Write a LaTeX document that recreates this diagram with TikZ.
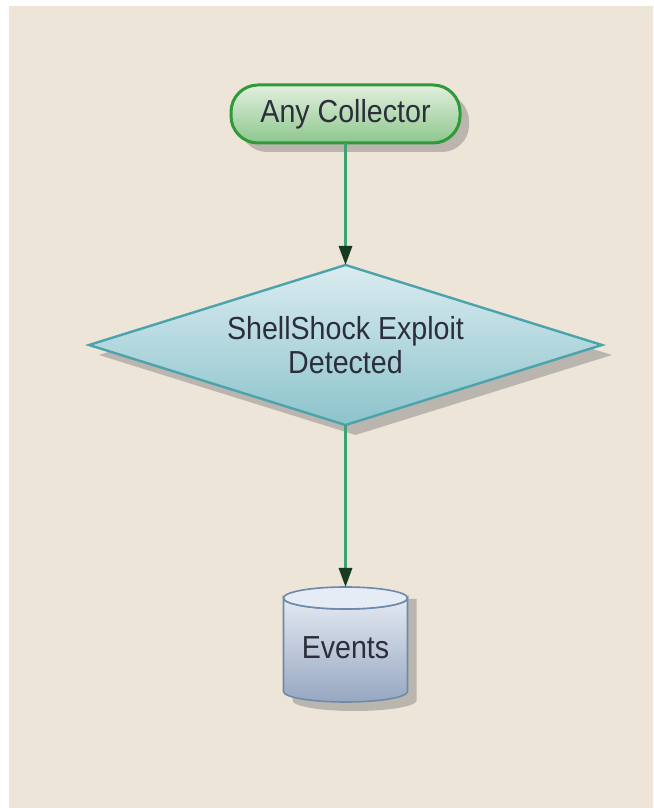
\documentclass[tikz,border=0pt]{standalone}
\usepackage{fontspec}
\setmainfont{Liberation Sans}
\usetikzlibrary{shapes.geometric,arrows.meta}
\definecolor{bgbeige}{HTML}{EDE5D7}
\definecolor{shadowc}{HTML}{A9A6A1}
\definecolor{greenline}{HTML}{2E9A38}
\definecolor{greentop}{HTML}{E2EFDE}
\definecolor{greenbot}{HTML}{8DC78C}
\definecolor{flowline}{HTML}{3BA374}
\definecolor{arrowdark}{HTML}{183A20}
\definecolor{tealline}{HTML}{4BA3AC}
\definecolor{tealtop}{HTML}{DAECF1}
\definecolor{tealbot}{HTML}{8CC3CB}
\definecolor{dbline}{HTML}{6E8AAA}
\definecolor{dbtop}{HTML}{E3E9F1}
\definecolor{dbbot}{HTML}{97A7C1}
\definecolor{dbcap}{HTML}{E6ECF5}
\definecolor{labeltext}{HTML}{2C2E3B}
\newcommand{\tallword}[1]{\scalebox{0.97}[1.08]{#1}}
\begin{document}
\begin{tikzpicture}[x=1pt,y=1pt,
  labelfont/.style={font=\fontsize{29.5}{36}\selectfont, text=labeltext},
  startgeom/.style={rectangle, rounded corners=27pt, minimum width=229pt,
    minimum height=58pt, inner sep=0pt, outer sep=0pt},
  decisiongeom/.style={diamond, aspect=3.2, minimum width=513pt,
    minimum height=160pt, inner sep=0pt, outer sep=0pt},
  shadowfill/.style={fill=shadowc, draw=none, fill opacity=0.75},
  startbox/.style={startgeom, draw=greenline, line width=3pt,
    top color=greentop, bottom color=greenbot, labelfont},
  decisionbox/.style={decisiongeom, draw=tealline, line width=2.4pt,
    top color=tealtop, bottom color=tealbot, labelfont, align=center},
  flow/.style={draw=flowline, line width=3pt,
    -{Triangle[length=19pt,width=13pt,color=arrowdark]}}
]
% page and canvas
\fill[white] (0,0) rectangle (653,808);
\fill[bgbeige] (9,0) rectangle (653,802);
\useasboundingbox (0,0) rectangle (653,808);

% drop shadows
\node[startgeom, shadowfill] at (354.5,685) {};
\node[decisiongeom, shadowfill] at (355.5,453) {};
\fill[shadowc, fill opacity=0.75] (292.5,209) -- (292.5,107.5)
  arc[start angle=180, end angle=360, x radius=62, y radius=10.5]
  -- (416.5,209) -- cycle;

% start terminal
\node[startbox] (collector) at (345.5,694) {\tallword{Any Collector}};

% decision
\node[decisionbox] (shellshock) at (345.5,463)
  {\tallword{ShellShock Exploit}\\[-2pt]\tallword{Detected}};

% data store: cylinder body and cap
\shade[top color=dbtop, bottom color=dbbot, draw=dbline, line width=1.6pt]
  (283.5,210) -- (283.5,116.5)
  arc[start angle=180, end angle=360, x radius=62, y radius=10.5]
  -- (407.5,210)
  arc[start angle=0, end angle=-180, x radius=62, y radius=11] -- cycle;
\filldraw[fill=dbcap, draw=dbline, line width=1.6pt]
  (345.5,210) ellipse[x radius=62, y radius=11];
\node[minimum width=124pt, minimum height=115pt, inner sep=0pt, outer sep=0pt]
  (events) at (345.5,163.5) {};
\node[labelfont] at (345.5,160) {\tallword{Events}};

% connectors
\draw[flow] (collector.south) -- (shellshock.north);
\draw[flow] (shellshock.south) -- (events.north);
\end{tikzpicture}
\end{document}
